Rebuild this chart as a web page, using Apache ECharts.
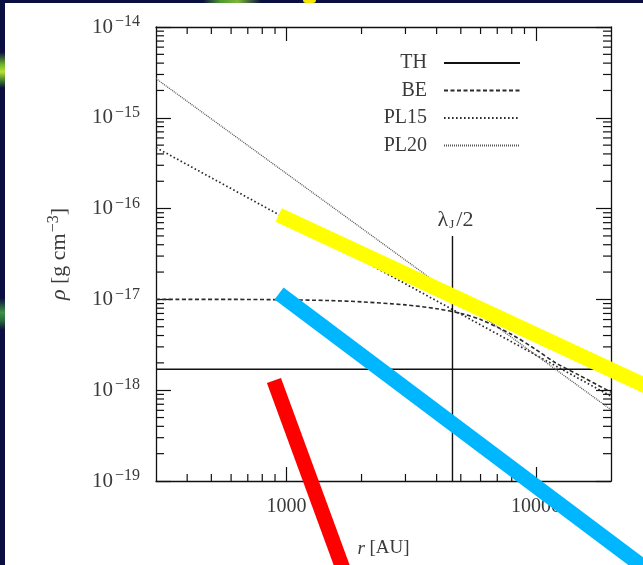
<!DOCTYPE html>
<html>
<head>
<meta charset="utf-8">
<script src="https://cdn.jsdelivr.net/npm/echarts@6/dist/echarts.min.js"></script>
<style>
  html, body { margin: 0; padding: 0; background: #0a0e40; }
  #chart { width: 643px; height: 565px; }
</style>
</head>
<body>
<div id="chart"></div>
<script>
// ---- axes: radius r [AU] and density rho [g cm^-3], both logarithmic ----
const rRange = [300, 20000];
const rMajorTicks = [1000, 10000];
const rMinorTicks = [400, 500, 600, 700, 800, 900, 2000, 3000, 4000, 5000, 6000, 7000, 8000, 9000];
const rhoRange = [1e-19, 1e-14];
const rhoMajorTicks = [1e-19, 1e-18, 1e-17, 1e-16, 1e-15, 1e-14];
const rhoMinorMantissas = [2, 3, 4, 5, 6, 7, 8, 9];
const rhoMinorDecades = [1e-19, 1e-18, 1e-17, 1e-16, 1e-15];

// ---- density profiles ----
const seriesNames = ['TH', 'BE', 'PL15', 'PL20'];
const thR = [300, 20000];
const thRho = [1.7e-18, 1.7e-18];
const beR = [300, 600, 1000, 1500, 2000, 3000, 4000, 5000, 6000, 8000, 10000, 12000, 15000, 20000];
const beRho = [1.0e-17, 1.0e-17, 9.9e-18, 9.7e-18, 9.4e-18, 8.7e-18, 7.9e-18, 7.0e-18, 6.0e-18, 4.1e-18, 2.8e-18, 2.0e-18, 1.45e-18, 0.95e-18];
const pl15R = [300, 20000];
const pl15Rho = [4.7e-16, 8.6e-19];
const pl20R = [300, 20000];
const pl20Rho = [2.7e-15, 6.1e-19];

// half Jeans length marker
const lambdaHalfR = [4630, 4630];
const lambdaHalfRho = [1e-19, 5e-17];

// highlighted slopes drawn over the plot: [r1, rho1, r2, rho2]
const yellowBand = [931, 8.5e-17, 31500, 9.4e-19];
const cyanBand = [934, 1.16e-17, 31500, 8.2e-21];
const redBand = [891, 1.28e-18, 1752, 8.1e-21];
const bandColors = ['#ffff00', '#00b7ff', '#ff0000'];

const zip = (xs, ys) => xs.map((x, i) => [x, ys[i]]);
const rhoMinorTicks = [];
rhoMinorDecades.forEach(d => rhoMinorMantissas.forEach(m => rhoMinorTicks.push(m * d)));

const FONT = 'Liberation Serif';
const INK = '#111';
const TXT = '#3a3a3a';
const supRich = {
  b: { fontFamily: FONT, fontSize: 21, color: TXT },
  s: { fontFamily: FONT, fontSize: 16, color: TXT, padding: [0, 0, 10, 2] }
};

const chart = echarts.init(document.getElementById('chart'), null, { renderer: 'canvas' });

// short inward ticks between the labelled decades, on both opposite sides of the frame
function minorTickSeries(data, vertical) {
  return {
    type: 'custom',
    coordinateSystem: 'cartesian2d',
    silent: true,
    z: 3,
    data: data,
    renderItem(params, api) {
      const cs = params.coordSys;
      const p = api.coord([api.value(0), api.value(1)]);
      const st = { stroke: INK, lineWidth: 1.2 };
      if (vertical) {
        const x = p[0];
        const yb = cs.y + cs.height;
        return { type: 'group', children: [
          { type: 'line', shape: { x1: x, y1: yb, x2: x, y2: yb - 7 }, style: st },
          { type: 'line', shape: { x1: x, y1: cs.y, x2: x, y2: cs.y + 7 }, style: st }
        ] };
      }
      const y = p[1];
      const xr = cs.x + cs.width;
      return { type: 'group', children: [
        { type: 'line', shape: { x1: cs.x, y1: y, x2: cs.x + 8, y2: y }, style: st },
        { type: 'line', shape: { x1: xr, y1: y, x2: xr - 8, y2: y }, style: st }
      ] };
    }
  };
}

// thick highlight strokes, free to run past the frame
const bandSeries = {
  type: 'custom',
  coordinateSystem: 'cartesian2d',
  silent: true,
  z: 10,
  data: [yellowBand, cyanBand, redBand],
  encode: { x: [0, 2], y: [1, 3] },
  renderItem(params, api) {
    const a = api.coord([api.value(0), api.value(1)]);
    const b = api.coord([api.value(2), api.value(3)]);
    return {
      type: 'line',
      shape: { x1: a[0], y1: a[1], x2: b[0], y2: b[1] },
      style: { stroke: bandColors[params.dataIndex], lineWidth: 15, lineCap: 'butt' }
    };
  }
};

const axisLineStyle = { color: INK, width: 1.3 };

const option = {
  backgroundColor: '#0a0e40',
  animation: false,
  graphic: [
    { type: 'rect', shape: { x: 5, y: 3, width: 640, height: 565 }, style: { fill: '#ffffff' }, z: -10 },
    { type: 'rect', shape: { x: 0, y: 52, width: 5, height: 36 }, z: -9,
      style: { fill: new echarts.graphic.LinearGradient(0, 0, 0, 1, [
        { offset: 0, color: '#0a0e40' }, { offset: 0.35, color: '#6fb52a' },
        { offset: 0.55, color: '#b8e03a' }, { offset: 0.8, color: '#3c7a2c' }, { offset: 1, color: '#0a0e40' }]) } },
    { type: 'rect', shape: { x: 0, y: 298, width: 5, height: 32 }, z: -9,
      style: { fill: new echarts.graphic.LinearGradient(0, 0, 0, 1, [
        { offset: 0, color: '#0a0e40' }, { offset: 0.45, color: '#3f8f45' },
        { offset: 0.7, color: '#2a6a3a' }, { offset: 1, color: '#0a0e40' }]) } },
    { type: 'rect', shape: { x: 203, y: 0, width: 58, height: 3 }, z: -9,
      style: { fill: new echarts.graphic.LinearGradient(0, 0, 1, 0, [
        { offset: 0, color: '#0a0e40' }, { offset: 0.3, color: '#4e9a2e' },
        { offset: 0.6, color: '#7ab83a' }, { offset: 1, color: '#0a0e40' }]) } },
    { type: 'rect', shape: { x: 303, y: 0, width: 13, height: 3, r: [0, 0, 3, 3] }, z: -9, style: { fill: '#f5e400' } }
  ],
  grid: { left: 156, right: 32, top: 27, bottom: 84, containLabel: false },
  legend: {
    data: seriesNames,
    orient: 'vertical',
    align: 'right',
    right: 117,
    top: 48,
    itemWidth: 76,
    itemHeight: 14,
    itemGap: 7.5,
    selectedMode: false,
    itemStyle: { color: 'rgba(0,0,0,0)', borderColor: 'rgba(0,0,0,0)', borderWidth: 0 },
    textStyle: { fontFamily: FONT, fontSize: 20, color: TXT, padding: [0, 12, 0, 0] }
  },
  xAxis: [
    {
      type: 'log', logBase: 10, min: rRange[0], max: rRange[1], position: 'bottom',
      axisLine: { lineStyle: axisLineStyle },
      axisTick: { inside: true, length: 14, customValues: rMajorTicks, lineStyle: { color: INK, width: 1.2 } },
      axisLabel: { customValues: rMajorTicks, margin: 16, fontFamily: FONT, fontSize: 20, color: TXT,
        formatter: v => String(Math.round(v)) },
      splitLine: { show: false },
      name: '{i|r} [AU]', nameLocation: 'middle', nameGap: 58,
      nameTextStyle: { fontFamily: FONT, fontSize: 19, color: TXT,
        rich: { i: { fontFamily: FONT, fontStyle: 'italic', fontSize: 19, color: TXT } } }
    },
    {
      type: 'log', logBase: 10, min: rRange[0], max: rRange[1], position: 'top',
      axisLine: { lineStyle: axisLineStyle },
      axisTick: { inside: true, length: 14, customValues: rMajorTicks, lineStyle: { color: INK, width: 1.2 } },
      axisLabel: { show: false }, splitLine: { show: false }
    }
  ],
  yAxis: [
    {
      type: 'log', logBase: 10, min: rhoRange[0], max: rhoRange[1], position: 'left',
      axisLine: { lineStyle: axisLineStyle },
      axisTick: { inside: true, length: 15, customValues: rhoMajorTicks, lineStyle: { color: INK, width: 1.2 } },
      axisLabel: { customValues: rhoMajorTicks, margin: 16, rich: supRich,
        formatter: v => '{b|10}{s|\u2212' + Math.abs(Math.round(Math.log10(v))) + '}' },
      splitLine: { show: false },
      name: '{i|\u03c1} [g cm{s|\u22123}]', nameLocation: 'middle', nameGap: 84, nameRotate: 90,
      nameTextStyle: { fontFamily: FONT, fontSize: 22, color: TXT,
        rich: { i: { fontFamily: FONT, fontStyle: 'italic', fontSize: 22, color: TXT },
                s: { fontFamily: FONT, fontSize: 16, color: TXT, padding: [0, 0, 10, 1] } } }
    },
    {
      type: 'log', logBase: 10, min: rhoRange[0], max: rhoRange[1], position: 'right',
      axisLine: { lineStyle: axisLineStyle },
      axisTick: { inside: true, length: 15, customValues: rhoMajorTicks, lineStyle: { color: INK, width: 1.2 } },
      axisLabel: { show: false }, splitLine: { show: false }
    }
  ],
  series: [
    { name: 'TH', type: 'line', data: zip(thR, thRho), symbol: 'none', z: 4, color: INK,
      lineStyle: { color: INK, width: 1.4, type: 'solid' } },
    { name: 'BE', type: 'line', data: zip(beR, beRho), symbol: 'none', smooth: 0.3, z: 4, color: '#2a2a2a',
      lineStyle: { color: '#2a2a2a', width: 1.6, type: [4, 2.5] } },
    { name: 'PL15', type: 'line', data: zip(pl15R, pl15Rho), symbol: 'none', z: 4, color: '#2a2a2a',
      lineStyle: { color: '#2a2a2a', width: 1.7, type: [1.6, 2.4] } },
    { name: 'PL20', type: 'line', data: zip(pl20R, pl20Rho), symbol: 'none', z: 4, color: '#555',
      lineStyle: { color: '#555', width: 1.3, type: [1, 1] } },
    { name: 'lambdaJ/2', type: 'line', z: 4, color: INK,
      symbol: 'circle', symbolSize: 1, showSymbol: true,
      itemStyle: { color: 'rgba(0,0,0,0)' },
      data: [
        [lambdaHalfR[0], lambdaHalfRho[0]],
        { value: [lambdaHalfR[1], lambdaHalfRho[1]],
          label: { show: true, position: 'top', distance: 4, offset: [3, 0],
            formatter: '{l|\u03bb}{j|J}{l|/2}',
            rich: { l: { fontFamily: FONT, fontSize: 22, color: TXT },
                    j: { fontFamily: FONT, fontSize: 13, color: TXT, padding: [8, 2, 0, 1] } } } }
      ],
      lineStyle: { color: INK, width: 1.4 } },
    minorTickSeries(rMinorTicks.map(v => [v, rhoRange[0]]), true),
    minorTickSeries(rhoMinorTicks.map(v => [rRange[0], v]), false),
    bandSeries
  ]
};

chart.setOption(option);
</script>
</body>
</html>
